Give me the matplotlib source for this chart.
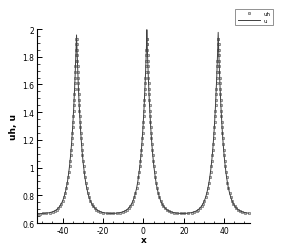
import numpy as np
import matplotlib
matplotlib.use("Agg")
import matplotlib.pyplot as plt
from matplotlib.ticker import MultipleLocator

# --- data ---
# one half-profile of a peak: distance from crest (x units) and value
prof_d = [0.00, 0.075, 0.159, 0.245, 0.335, 0.427, 0.523, 0.623, 0.727, 0.835, 0.947,
          1.065, 1.189, 1.318, 1.454, 1.598, 1.751, 1.912, 2.085, 2.270, 2.469, 2.684,
          2.919, 3.177, 3.464, 3.786, 4.155, 4.584, 5.098, 5.650, 6.238, 6.858, 7.487,
          8.223, 8.99, 9.80, 10.73, 11.78, 13.2, 15.0, 16.8]
prof_v = [1.96, 1.93, 1.89, 1.85, 1.81, 1.77, 1.73, 1.69, 1.65, 1.61, 1.57,
          1.53, 1.49, 1.45, 1.41, 1.37, 1.33, 1.29, 1.25, 1.21, 1.17, 1.13,
          1.09, 1.05, 1.01, 0.97, 0.93, 0.89, 0.85, 0.815, 0.785, 0.76, 0.74,
          0.722, 0.708, 0.697, 0.688, 0.681, 0.675, 0.671, 0.669]
peak_x = [-33.1, 1.7, 37.0]
peak_top = [1.957, 1.995, 1.976]
left_tail_x = [-52.7, -51.0]
tail_v = 0.667

# build the curve from the read profile
xs, ys, crest = [], [], []
for xt in left_tail_x:
    xs.append(xt); ys.append(tail_v); crest.append(False)
for c, top in zip(peak_x, peak_top):
    for d, v in zip(prof_d[:0:-1], prof_v[:0:-1]):
        xs.append(c - d); ys.append(v); crest.append(False)
    xs.append(c); ys.append(top); crest.append(True)
    for d, v in zip(prof_d[1:], prof_v[1:]):
        xs.append(c + d); ys.append(v); crest.append(False)
xs = np.array(xs); ys = np.array(ys); crest = np.array(crest)
m = xs <= 52.7
xs, ys, crest = xs[m], ys[m], crest[m]

fig = plt.figure(figsize=(2.84, 2.53), dpi=100)
ax = fig.add_axes([0.130, 0.1146, 0.750, 0.7668])

ax.plot(xs[~crest], ys[~crest], ls='none', marker='s', ms=2.0, mfc='#c8c8c8',
        mec='#606060', mew=0.45, label='uh')
ax.plot(xs, ys, color='#404040', lw=0.7, label='u')

ax.set_xlim(-52.7, 52.7)
ax.set_ylim(0.6, 2.0)
for s in ['top', 'right']:
    ax.spines[s].set_visible(False)
for s in ['left', 'bottom']:
    ax.spines[s].set_linewidth(0.8)
ax.xaxis.set_major_locator(MultipleLocator(20))
ax.xaxis.set_minor_locator(MultipleLocator(5))
ax.yaxis.set_major_locator(MultipleLocator(0.2))
ax.yaxis.set_minor_locator(MultipleLocator(0.05))
ax.tick_params(which='both', direction='in', labelsize=5.5, pad=2)
ax.tick_params(which='major', length=3.5, width=0.7)
ax.tick_params(which='minor', length=1.8, width=0.5)
ax.set_yticks([0.6, 0.8, 1.0, 1.2, 1.4, 1.6, 1.8, 2.0])
ax.set_yticklabels(['0.6', '0.8', '1', '1.2', '1.4', '1.6', '1.8', '2'])
ax.set_xticks([-40, -20, 0, 20, 40])
ax.set_xticklabels(['-40', '-20', '0', '20', '40'])

ax.set_xlabel('x', fontsize=6.5, fontweight='bold', labelpad=0)
ax.set_ylabel('uh, u', fontsize=6.5, fontweight='bold', labelpad=3)

h1, l1 = ax.get_legend_handles_labels()
leg = fig.legend(h1, l1, loc='upper right', bbox_to_anchor=(0.972, 0.972),
                 fontsize=4, frameon=True, fancybox=False, framealpha=1,
                 edgecolor='#808080', handlelength=4.0, borderpad=0.45,
                 labelspacing=0.25, handletextpad=0.7)
leg.get_frame().set_linewidth(0.6)

fig.savefig('out.png', dpi=100)
